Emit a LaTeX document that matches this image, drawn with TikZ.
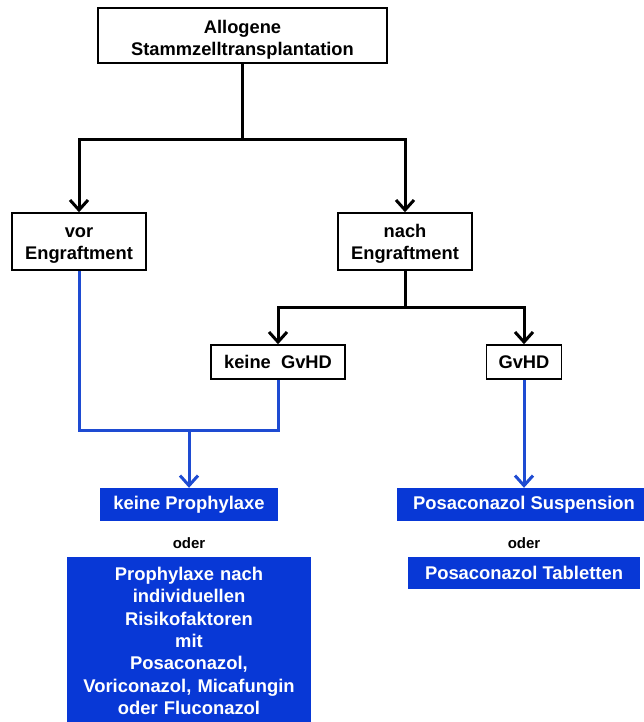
\documentclass[tikz,border=0pt]{standalone}
\usepackage{fontspec}
\setmainfont{Liberation Sans}
\usetikzlibrary{arrows.meta}
\definecolor{bfill}{RGB}{8,56,214}
\definecolor{bline}{RGB}{30,75,210}
\newcommand{\toprule}[1]{\rule{0pt}{#1}}
\begin{document}
\begin{tikzpicture}[x=1pt,y=-1pt,
  wbox/.style={draw=black,line width=1.5pt,fill=white,inner sep=0pt,align=center,
    font=\fontsize{18.3}{22}\selectfont\bfseries},
  bbox/.style={fill=bfill,text=white,inner sep=0pt,align=center,
    font=\fontsize{18.4}{22.3}\selectfont\bfseries},
  odertxt/.style={inner sep=0pt,font=\fontsize{15}{18}\selectfont\bfseries},
  karr/.style={draw=black,line width=3pt,-{Straight Barb[length=10pt,width=18pt,line width=3pt]}},
  kline/.style={draw=black,line width=3pt},
  barr/.style={draw=bline,line width=3pt,-{Straight Barb[length=10pt,width=18pt,line width=3pt]}},
  bln/.style={draw=bline,line width=3pt}]
\useasboundingbox (0,0) rectangle (643,722);

\node[wbox,minimum width=289pt,minimum height=55pt] (top) at (242.5,35.5) {\toprule{21pt}Allogene\\Stammzelltransplantation};
\node[wbox,minimum width=134pt,minimum height=57pt] (vor) at (79,241.5) {\toprule{17pt}vor\\Engraftment};
\node[wbox,minimum width=134pt,minimum height=57pt] (nach) at (405,241.5) {\toprule{17pt}nach\\Engraftment};
\node[wbox,minimum width=134pt,minimum height=34pt] (kg) at (278,362) {keine\ \ GvHD};
\node[wbox,minimum width=75pt,minimum height=34pt] (gv) at (524,362) {GvHD};

\node[bbox,minimum width=178pt,minimum height=33pt] (kp) at (189,504.5) {keine Prophylaxe};
\node[odertxt] (o1) at (189,543) {oder};
\node[bbox,anchor=north,text width=244pt,inner ysep=10pt] (big) at (189,557)
  {Prophylaxe nach\\individuellen\\Risikofaktoren\\mit\\Posaconazol,\\Voriconazol, Micafungin\\oder Fluconazol};

\node[bbox,minimum width=254pt,minimum height=33pt] (ps) at (524,504.5) {Posaconazol Suspension};
\node[odertxt] (o2) at (524,543) {oder};
\node[bbox,minimum width=232pt,minimum height=32pt] (pt) at (524,573) {Posaconazol Tabletten};

\coordinate (j1) at (242.5,140);
\coordinate (j2) at (405,307);
\coordinate (j3) at (189,430);

\draw[kline] (top) -- (j1);
\draw[karr] (j1) -| (vor);
\draw[karr] (j1) -| (nach);
\draw[kline] (nach) -- (j2);
\draw[karr] (j2) -| (kg);
\draw[karr] (j2) -| (gv);

\draw[bln] (vor) |- (j3) -| (kg);
\draw[barr] (j3) -- (kp);
\draw[barr] (gv) -- (ps);
\end{tikzpicture}
\end{document}
